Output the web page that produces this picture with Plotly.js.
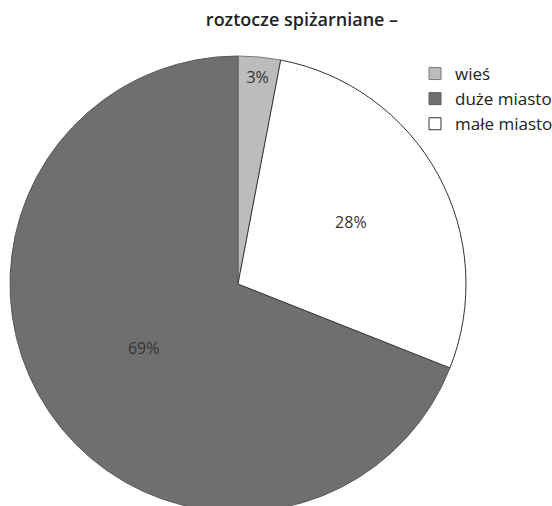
<!DOCTYPE html>
<html>
<head>
<meta charset="utf-8">
<script src="https://cdn.plot.ly/plotly-3.0.1.min.js"></script>
<style>html,body{margin:0;padding:0;overflow:hidden;background:#fff;}</style>
</head>
<body>
<div id="chart" style="width:552px;height:514px;"></div>
<script>
const titleText = "roztocze spiżarniane –";
const labels = ["wieś", "duże miasto", "małe miasto"];
const values = [3, 69, 28];
const colors = ["#bcbcbc", "#6f6f6f", "#ffffff"];
const lineColors = ["#7a7a7a", "#5a5a5a", "#333333"];

const trace = {
  type: "pie",
  labels: labels,
  values: values,
  sort: false,
  direction: "counterclockwise",
  rotation: 0,
  marker: { colors: colors, line: { color: lineColors, width: 1 } },
  textinfo: "percent",
  texttemplate: "%{value}%",
  textposition: "inside",
  insidetextorientation: "horizontal",
  textfont: { family: "Open Sans", size: 16, color: "#333333" },
  hoverinfo: "none",
  domain: { x: [0, 456 / 542], y: [0, 1] }
};

const layout = {
  width: 552,
  height: 514,
  margin: { l: 10, r: 0, t: 56, b: 2, autoexpand: false },
  paper_bgcolor: "#ffffff",
  title: {
    text: titleText,
    font: { family: "Open Sans", size: 18, weight: 600, color: "#222222" },
    x: 302 / 552, xref: "container", xanchor: "center",
    y: 1 - 20 / 514, yref: "container", yanchor: "middle"
  },
  showlegend: true,
  legend: {
    xref: "paper", yref: "paper",
    x: (415 - 10) / 542, y: 1.0,
    xanchor: "left", yanchor: "top",
    font: { family: "Open Sans", size: 17, color: "#222222" },
    bgcolor: "rgba(0,0,0,0)",
    traceorder: "normal"
  }
};

Plotly.newPlot("chart", [trace], layout, { staticPlot: true, displayModeBar: false });
</script>
</body>
</html>
